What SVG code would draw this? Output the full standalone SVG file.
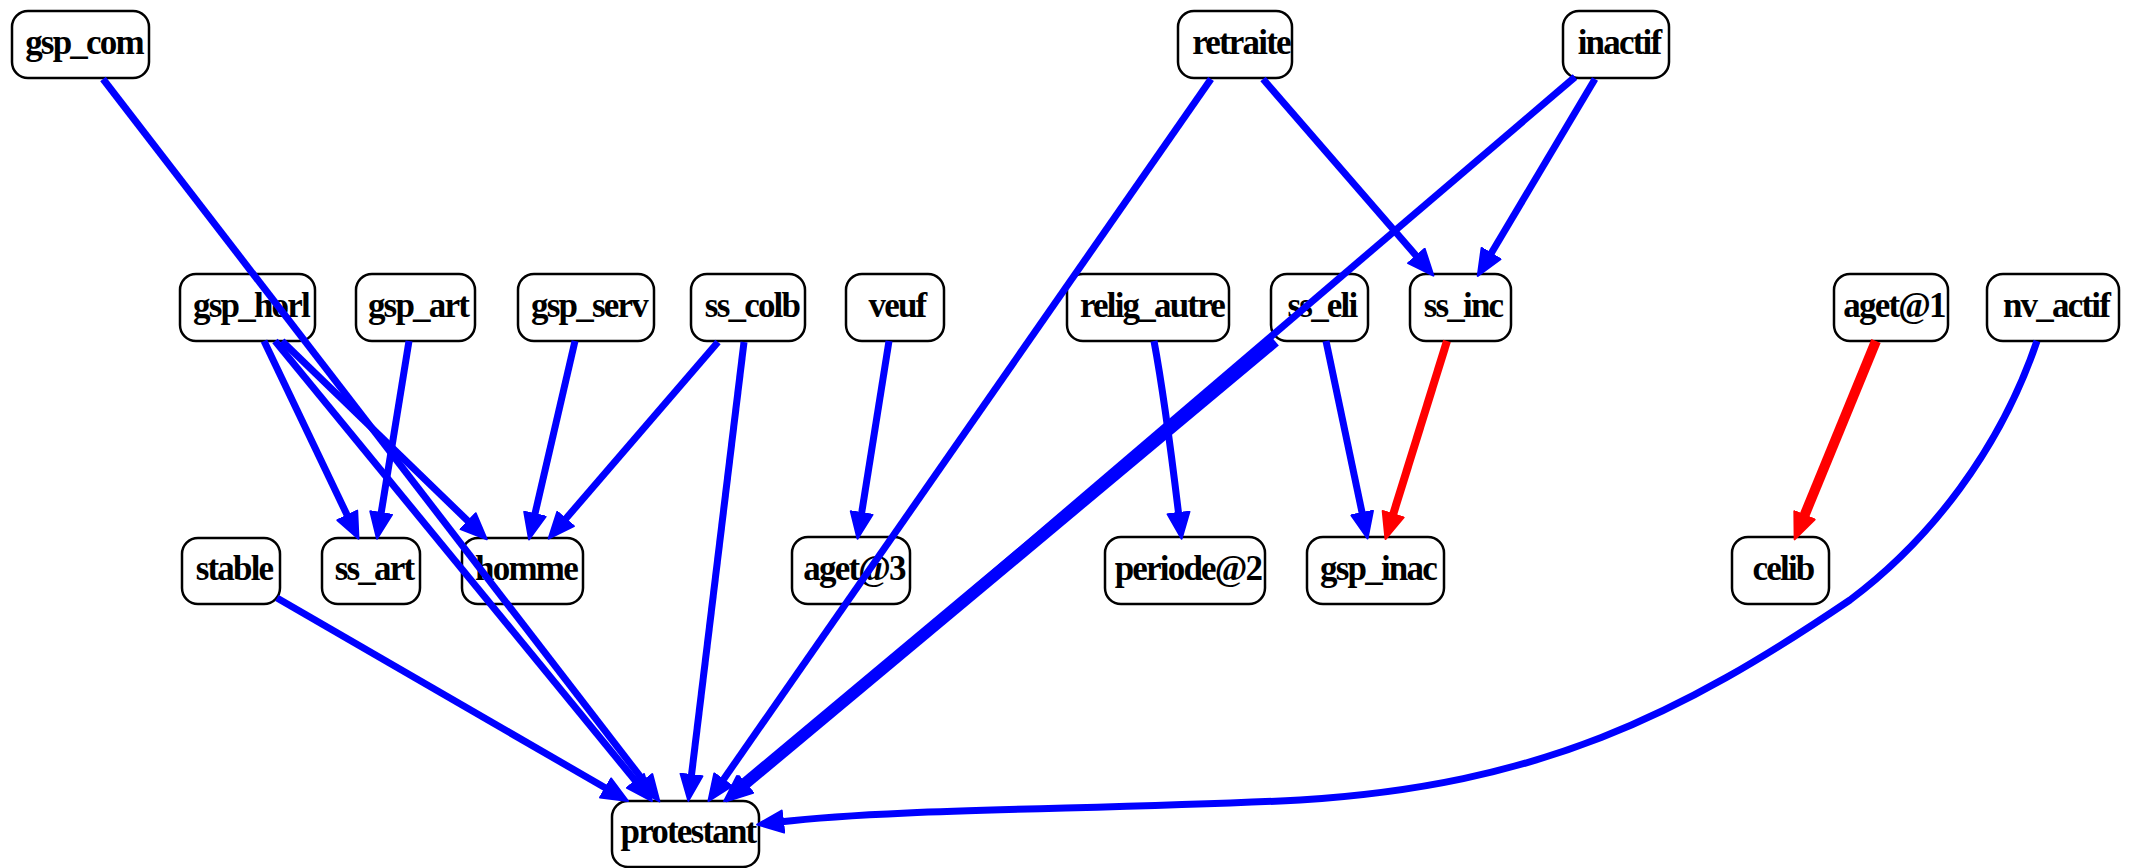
<svg xmlns="http://www.w3.org/2000/svg" width="2136" height="868" viewBox="0 0 2136 868">
<defs>
<style>
.n rect{fill:#fff;stroke:#000;stroke-width:2.5}
.n text{font-family:"Liberation Serif","Times New Roman",serif;font-weight:bold;font-size:35px;letter-spacing:-1.8px;text-anchor:middle;fill:#000}
.e path{fill:none;stroke-linecap:butt}
.b{stroke:#0000ff;stroke-width:7}
.r{stroke:#ff0000;stroke-width:8}
.bb{marker-end:url(#ab)}
.rr{marker-end:url(#ar)}
</style>
<marker id="ab" markerUnits="userSpaceOnUse" markerWidth="30" markerHeight="26" refX="4" refY="13" orient="auto" viewBox="-1 0 30 26"><path d="M0,2 L26,13 L0,24 Z" fill="#0000ff" stroke="#0000ff" stroke-width="2" stroke-linejoin="round"/></marker>
<marker id="ar" markerUnits="userSpaceOnUse" markerWidth="30" markerHeight="26" refX="4" refY="13" orient="auto" viewBox="-1 0 30 26"><path d="M0,2 L26,13 L0,24 Z" fill="#ff0000" stroke="#ff0000" stroke-width="2" stroke-linejoin="round"/></marker>
</defs>
<rect width="2136" height="868" fill="#fff"/>
<g id="nodes">
<g id="gsp_com" class="n"><rect x="12" y="11" width="137" height="67" rx="16"/><text x="84" y="54">gsp_com</text></g>
<g id="retraite" class="n"><rect x="1178" y="11" width="114" height="67" rx="16"/><text x="1241" y="54">retraite</text></g>
<g id="inactif" class="n"><rect x="1563" y="11" width="106" height="67" rx="16"/><text x="1619" y="54">inactif</text></g>
<g id="gsp_horl" class="n"><rect x="180" y="274" width="135" height="67" rx="16"/><text x="251" y="317">gsp_horl</text></g>
<g id="gsp_art" class="n"><rect x="356" y="274" width="119" height="67" rx="16"/><text x="418" y="317">gsp_art</text></g>
<g id="gsp_serv" class="n"><rect x="518" y="274" width="136" height="67" rx="16"/><text x="589" y="317">gsp_serv</text></g>
<g id="ss_colb" class="n"><rect x="691" y="274" width="114" height="67" rx="16"/><text x="752" y="317">ss_colb</text></g>
<g id="veuf" class="n"><rect x="846" y="274" width="98" height="67" rx="16"/><text x="897" y="317">veuf</text></g>
<g id="relig_autre" class="n"><rect x="1067" y="274" width="162" height="67" rx="16"/><text x="1152" y="317">relig_autre</text></g>
<g id="ss_eli" class="n"><rect x="1271" y="274" width="97" height="67" rx="16"/><text x="1322" y="317">ss_eli</text></g>
<g id="ss_inc" class="n"><rect x="1410" y="274" width="101" height="67" rx="16"/><text x="1463" y="317">ss_inc</text></g>
<g id="aget_1" class="n"><rect x="1834" y="274" width="114" height="67" rx="16"/><text x="1894" y="317">aget@1</text></g>
<g id="nv_actif" class="n"><rect x="1987" y="274" width="132" height="67" rx="16"/><text x="2056" y="317">nv_actif</text></g>
<g id="stable" class="n"><rect x="182" y="538" width="98" height="66" rx="16"/><text x="234" y="580">stable</text></g>
<g id="ss_art" class="n"><rect x="322" y="538" width="98" height="66" rx="16"/><text x="374" y="580">ss_art</text></g>
<g id="homme" class="n"><rect x="462" y="538" width="121" height="66" rx="16"/><text x="526" y="580">homme</text></g>
<g id="aget_3" class="n"><rect x="792" y="537" width="118" height="67" rx="16"/><text x="854" y="580">aget@3</text></g>
<g id="periode_2" class="n"><rect x="1105" y="537" width="160" height="67" rx="16"/><text x="1188" y="580">periode@2</text></g>
<g id="gsp_inac" class="n"><rect x="1307" y="537" width="137" height="67" rx="16"/><text x="1378" y="580">gsp_inac</text></g>
<g id="celib" class="n"><rect x="1732" y="537" width="97" height="67" rx="16"/><text x="1783" y="580">celib</text></g>
<g id="protestant" class="n"><rect x="612" y="801" width="147" height="66" rx="16"/><text x="688" y="843">protestant</text></g>
</g>
<g id="edges" class="e">
<path class="b bb" d="M103,79 L646,784"/>
<path class="b bb" d="M264,341 L349,519"/>
<path class="b bb" d="M409,341 L380.5,517"/>
<path class="b bb" d="M282,341 L471,524"/>
<path class="b bb" d="M275,341 L638,784"/>
<path class="b bb" d="M575,341 L534,518"/>
<path class="b bb" d="M718,342 L563,522"/>
<path class="b bb" d="M744,342 L691,779"/>
<path class="b bb" d="M889,341 L861,517"/>
<path class="b bb" d="M1211,79 L721,783"/>
<path class="b bb" d="M1263,79 L1419,259"/>
<path class="b bb" d="M1575,77 L743,787"/>
<path class="b bb" d="M1595,79 L1489,257"/>
<path class="b bb" d="M1154,341 Q1165,400 1179,517"/>
<path class="b bb" d="M1326,341 L1363,517"/>
<path class="b bb" d="M1275,341 L741,787" style="stroke-width:12"/>
<path class="r rr" d="M1447,341 L1392,518"/>
<path class="r rr" d="M1876,341 L1803,519" style="stroke-width:10"/>
<path class="b bb" d="M2037,341 C2000,450 1930,540 1850,600 C1680,715 1540,785 1300,800 C1100,810 900,808 779,822"/>
<path class="b bb" d="M277,598 L609,790"/>
</g>
</svg>
